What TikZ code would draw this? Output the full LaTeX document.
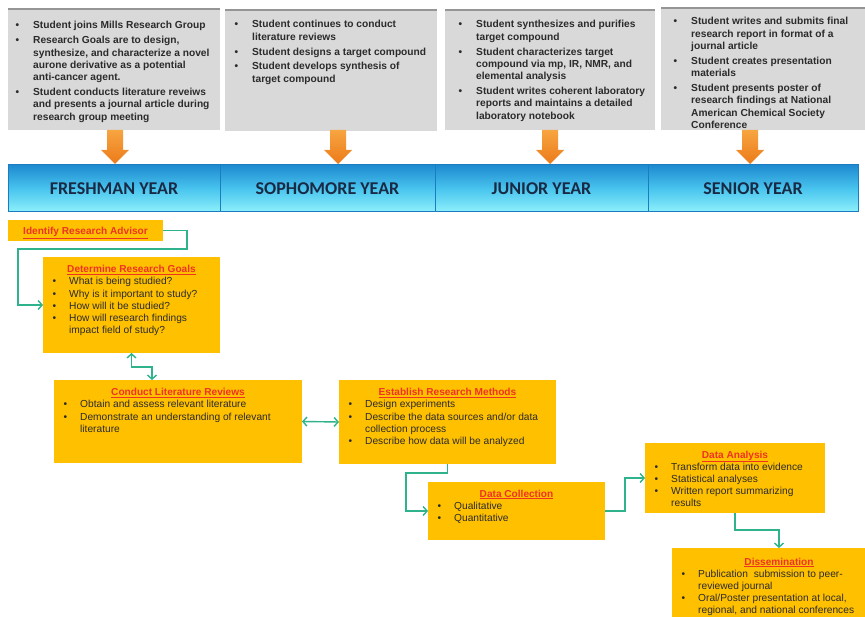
\documentclass[tikz,border=0pt]{standalone}
\usepackage{fontspec}
\setmainfont{Liberation Sans}
\newfontfamily\barfont{Carlito}
\usetikzlibrary{arrows.meta,calc}
\definecolor{gboxc}{HTML}{D9D9D9}
\definecolor{gedge}{HTML}{959595}
\definecolor{oboxc}{HTML}{FFC000}
\definecolor{ttlred}{HTML}{EE3322}
\definecolor{connc}{HTML}{2EB38C}
\definecolor{barTop}{HTML}{1E8AD0}
\definecolor{barMid}{HTML}{48C4EE}
\definecolor{barBot}{HTML}{8EF0FB}
\definecolor{barLine}{HTML}{1C7CC0}
\definecolor{barTxt}{HTML}{1A2A45}
\definecolor{arrTop}{HTML}{F7A541}
\definecolor{arrBot}{HTML}{EC7A1A}
\definecolor{txtc}{HTML}{2B2B2B}
\newlength\hng
\newcommand{\bl}{\par\hangindent=\hng\hangafter=1\noindent\makebox[\hng][l]{\textbullet}}
\newcommand{\gset}{\fontsize{10.2}{12.4}\selectfont\bfseries\setlength\parskip{2.3pt}\setlength\hng{17.5pt}}
\newcommand{\oset}{\fontsize{10.2}{12.2}\selectfont\setlength\parskip{0pt}\setlength\hng{16.5pt}}
\newcommand{\tbx}[2]{\begin{minipage}[t]{250pt}#1\raggedright #2\end{minipage}}
\tikzset{
  gbox/.style={anchor=north west, inner sep=0pt, outer sep=0pt, fill=gboxc},
  obox/.style={anchor=north west, inner sep=0pt, outer sep=0pt, fill=oboxc},
  seg/.style={anchor=north west, inner sep=0pt, outer sep=0pt, minimum height=47pt,
    top color=barTop, bottom color=barBot, middle color=barMid, draw=barLine, line width=1pt,
    text=barTxt, font=\barfont\bfseries\fontsize{18}{18}\selectfont},
  btxt/.style={anchor=base west, inner sep=0pt, text=txtc},
  ttl/.style={anchor=base, inner sep=0pt, text=ttlred, font=\fontsize{10.1}{11}\selectfont\bfseries},
  conn/.style={draw=connc, line width=1.4pt, -{Straight Barb[length=4pt,width=9pt]}},
  connb/.style={draw=connc, line width=1.4pt, {Straight Barb[length=4pt,width=9pt]}-{Straight Barb[length=4pt,width=9pt]}},
  darr/.style={top color=arrTop, bottom color=arrBot}
}
\begin{document}
\begin{tikzpicture}[x=1pt,y=-1pt]
\useasboundingbox (0,0) rectangle (865,617);
\fill[white] (0,0) rectangle (865,617);
% gray boxes
\node[gbox, minimum width=212pt, minimum height=121pt] (g1) at (8,9) {};
\node[gbox, minimum width=212pt, minimum height=121pt] (g2) at (225,10) {};
\node[gbox, minimum width=210pt, minimum height=120pt] (g3) at (445,10) {};
\node[gbox, minimum width=204pt, minimum height=122pt] (g4) at (661,8) {};
\foreach \g in {g1,g2,g3,g4}{\draw[gedge, line width=2pt] (\g.north west) -- (\g.north east);}
\node[btxt] (t1) at (15.5,29) {\tbx{\gset}{\bl Student joins Mills Research Group\bl Research Goals are to design,\newline synthesize, and characterize a novel\newline aurone derivative as a potential\newline anti-cancer agent.\bl Student conducts literature reveiws\newline and presents a journal article during\newline research group meeting}};
\node[btxt] (t2) at (234.5,28) {\tbx{\gset}{\bl Student continues to conduct\newline literature reviews\bl Student designs a target compound\bl Student develops synthesis of\newline target compound}};
\node[btxt] (t3) at (458.5,28) {\tbx{\gset}{\bl Student synthesizes and purifies\newline target compound\bl Student characterizes target\newline compound via mp, IR, NMR, and\newline elemental analysis\bl Student writes coherent laboratory\newline reports and maintains a detailed\newline laboratory notebook}};
\node[btxt] (t4) at (673.5,25) {\tbx{\gset}{\bl Student writes and submits final\newline research report in format of a\newline journal article\bl Student creates presentation\newline materials\bl Student presents poster of\newline research findings at National\newline American Chemical Society\newline Conference}};
% orange arrows
\foreach \c in {115,338,550,750}{
  \shade[darr] (\c-8,130) -- (\c+8,130) -- (\c+8,150) -- (\c+14,150) -- (\c,164) -- (\c-14,150) -- (\c-8,150) -- cycle;
}
% bar
\node[seg, minimum width=212pt] (fy) at (8,165) {FRESHMAN YEAR};
\node[seg, minimum width=215pt] (so) at (220,165) {SOPHOMORE YEAR};
\node[seg, minimum width=213pt] (ju) at (435,165) {JUNIOR YEAR};
\node[seg, minimum width=210pt] (se) at (648,165) {SENIOR YEAR};
% orange boxes
\node[obox, minimum width=155pt, minimum height=21pt] (adv) at (8,220) {};
\node[obox, minimum width=177pt, minimum height=96pt] (goals) at (43,257) {};
\node[obox, minimum width=248pt, minimum height=83pt] (lit) at (54,380) {};
\node[obox, minimum width=217pt, minimum height=84pt] (meth) at (339,380) {};
\node[obox, minimum width=177pt, minimum height=58pt] (coll) at (428,482) {};
\node[obox, minimum width=180pt, minimum height=70pt] (anal) at (645,443) {};
\node[obox, minimum width=193pt, minimum height=75pt] (diss) at (672,548) {};
% titles
\node[ttl] (advt) at (85.5,235) {\underline{Identify Research Advisor}};
\node[ttl] (goalst) at (131.5,272.5) {\underline{Determine Research\ Goals}};
\node[ttl] (litt) at (178,396) {\underline{Conduct Literature Reviews}};
\node[ttl] (metht) at (447.5,396) {\underline{Establish Research Methods}};
\node[ttl] (collt) at (516.5,497) {\underline{Data Collection}};
\node[ttl] (analt) at (735,458) {\underline{Data Analysis}};
\node[ttl] (disst) at (779,565) {\underline{Dissemination}};
% bodies
\node[btxt] (goalsb) at (52.5,285) {\tbx{\oset}{\bl What is being studied?\bl Why is it important to study?\bl How will it be studied?\bl How will research findings\newline impact field of study?}};
\node[btxt] (litb) at (63.5,408) {\tbx{\oset}{\bl Obtain and assess relevant literature\bl Demonstrate an understanding of relevant\newline literature}};
\node[btxt] (methb) at (348.5,408) {\tbx{\oset}{\bl Design experiments\bl Describe the data sources and/or data\newline collection process\bl Describe how data will be analyzed}};
\node[btxt] (collb) at (437.5,509) {\tbx{\oset}{\bl Qualitative\bl Quantitative}};
\node[btxt] (analb) at (654.5,470) {\tbx{\oset}{\bl Transform data into evidence\bl Statistical analyses\bl Written report summarizing\newline results}};
\node[btxt] (dissb) at (681.5,577) {\tbx{\oset}{\bl Publication\ \ submission to peer-\newline reviewed journal\bl Oral/Poster presentation at local,\newline regional, and national conferences}};
% connectors
\draw[conn] (adv.east) -| (187,249) -| (18,305) -- (goals.west);
\draw[connb] (goals.south) -- ++(0,14) -| ([xshift=98pt]lit.north west);
\draw[connb] (lit.east) -- (meth.west);
\draw[conn] (meth.south) -- ++(0,9) -| (406,511) -- (coll.west);
\draw[conn] (coll.east) -| (625,478) -- (anal.west);
\draw[conn] (anal.south) -- ++(0,17) -| ([xshift=107pt]diss.north west);
\end{tikzpicture}
\end{document}
